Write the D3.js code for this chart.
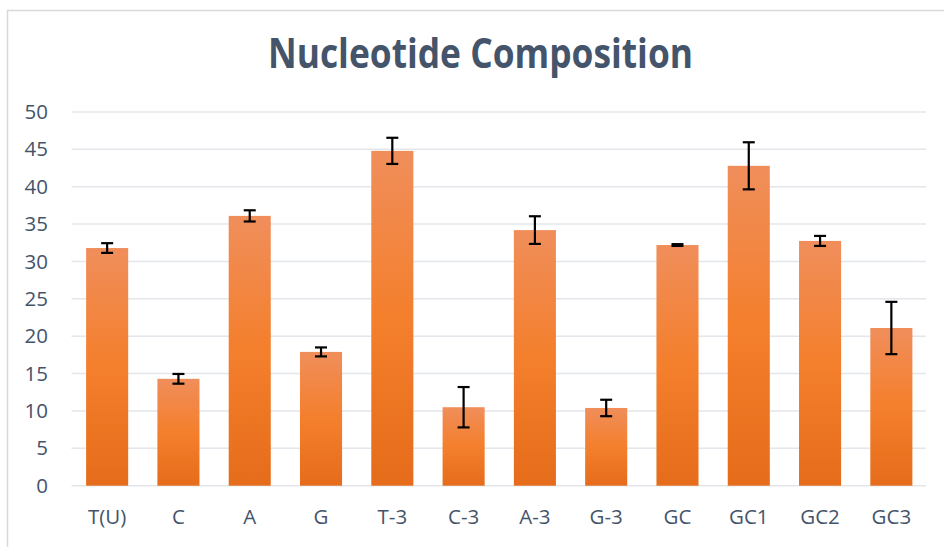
<!DOCTYPE html>
<html>
<head>
<meta charset="utf-8">
<script src="https://cdn.jsdelivr.net/npm/d3@7"></script>
<style>
  html, body { margin: 0; padding: 0; background: #fff; }
  svg { display: block; }
</style>
</head>
<body>
<svg id="chart" width="944" height="547"></svg>
<script>
const categories = ["T(U)", "C", "A", "G", "T-3", "C-3", "A-3", "G-3", "GC", "GC1", "GC2", "GC3"];
const values     = [31.8, 14.3, 36.1, 17.9, 44.8, 10.5, 34.2, 10.4, 32.2, 42.8, 32.75, 21.1];
const errors     = [0.65, 0.65, 0.75, 0.6, 1.75, 2.7, 1.85, 1.1, 0.12, 3.15, 0.67, 3.5];
const yTicks     = [0, 5, 10, 15, 20, 25, 30, 35, 40, 45, 50];
const titleText  = "Nucleotide Composition";

const svg = d3.select("#chart");
const W = 944, H = 547;
const plot = { left: 71.5, right: 927, top: 112, bottom: 485.7 };
const textColor = "#44546A";

// chart border
svg.append("rect")
  .attr("x", 7.5).attr("y", 10.5)
  .attr("width", W + 10).attr("height", H + 10)
  .attr("fill", "#fff").attr("stroke", "#D9D9D9").attr("stroke-width", 1.5);

// gradient
const defs = svg.append("defs");
const grad = defs.append("linearGradient")
  .attr("id", "barGrad").attr("x1", 0).attr("y1", 0).attr("x2", 0).attr("y2", 1);
grad.append("stop").attr("offset", "0%").attr("stop-color", "#F08E5B");
grad.append("stop").attr("offset", "50%").attr("stop-color", "#F47F2C");
grad.append("stop").attr("offset", "100%").attr("stop-color", "#E56C1A");

const x = d3.scaleBand().domain(categories).range([plot.left, plot.right]).paddingInner(0.41).paddingOuter(0.205);
const y = d3.scaleLinear().domain([0, 50]).range([plot.bottom, plot.top]);

// gridlines
svg.append("g").selectAll("line").data(yTicks).join("line")
  .attr("x1", plot.left).attr("x2", plot.right - 1)
  .attr("y1", d => y(d)).attr("y2", d => y(d))
  .attr("stroke", "#E3E6EA").attr("stroke-width", 1.5);

// y axis labels
const yAxis = d3.axisLeft(y).tickValues(yTicks).tickSize(0).tickPadding(0);
const gy = svg.append("g").attr("transform", `translate(48,0)`).call(yAxis);
gy.select(".domain").remove();
gy.selectAll("text")
  .attr("fill", textColor)
  .style("font-family", "'Open Sans', sans-serif")
  .style("font-size", "20.5px");

// x axis labels
const xAxis = d3.axisBottom(x).tickSize(0).tickPadding(0);
const gx = svg.append("g").attr("transform", `translate(0,${plot.bottom + 23.5})`).call(xAxis);
gx.select(".domain").remove();
gx.selectAll("text")
  .attr("fill", textColor)
  .style("font-family", "'Open Sans', sans-serif")
  .style("font-size", "20.5px");

// bars
svg.append("g").selectAll("rect").data(categories).join("rect")
  .attr("x", d => x(d))
  .attr("width", x.bandwidth())
  .attr("y", (d, i) => y(values[i]))
  .attr("height", (d, i) => y(0) - y(values[i]))
  .attr("fill", "url(#barGrad)");

// error bars
const eg = svg.append("g").attr("stroke", "#000").attr("stroke-width", 2.2);
categories.forEach((c, i) => {
  const cx = x(c) + x.bandwidth() / 2;
  const hi = y(values[i] + errors[i]), lo = y(values[i] - errors[i]);
  eg.append("line").attr("x1", cx).attr("x2", cx).attr("y1", hi).attr("y2", lo);
  eg.append("line").attr("x1", cx - 6).attr("x2", cx + 6).attr("y1", hi).attr("y2", hi);
  eg.append("line").attr("x1", cx - 6).attr("x2", cx + 6).attr("y1", lo).attr("y2", lo);
});

// title
svg.append("text")
  .attr("x", 480.5).attr("y", 68)
  .attr("text-anchor", "middle")
  .attr("fill", textColor)
  .attr("textLength", 425)
  .attr("lengthAdjust", "spacingAndGlyphs")
  .style("font-family", "'Open Sans', sans-serif")
  .style("font-weight", "bold")
  .style("font-size", "41px")
  .text(titleText);
</script>
</body>
</html>
